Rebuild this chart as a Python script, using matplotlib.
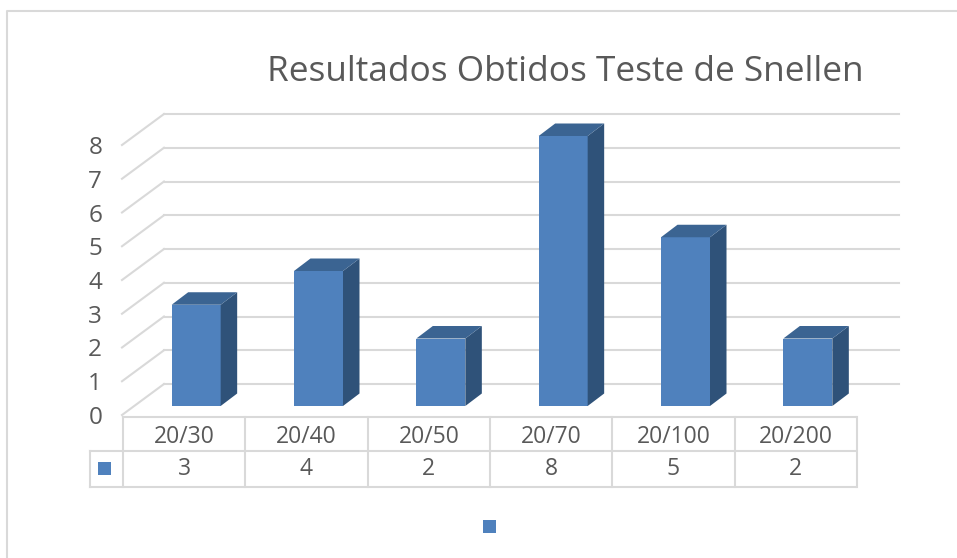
import matplotlib
matplotlib.use("Agg")
import matplotlib.pyplot as plt

categories = ["20/30", "20/40", "20/50", "20/70", "20/100", "20/200"]
values = [3, 4, 2, 8, 5, 2]
y_ticks = [0, 1, 2, 3, 4, 5, 6, 7, 8]
title = "Resultados Obtidos Teste de Snellen"

W, H = 957, 558
FRONT = "#4F81BD"
SIDE = "#2F5279"
TOP = "#3B6492"
LINE = "#D9D9D9"
TEXT = "#595959"
LW = 1.5

plt.rcParams["font.family"] = ["Open Sans", "DejaVu Sans"]

fig = plt.figure(figsize=(W / 100, H / 100), dpi=100)

# plot area, y=0 at pixel row 415 and y=8 at pixel row 145
ax = fig.add_axes([123 / W, 1 - 415 / H, 734 / W, 270 / H])
ax.set_xlim(-0.5, 5.5)
ax.set_ylim(0, 8)
ax.patch.set_alpha(0)
for s in ax.spines.values():
    s.set_visible(False)

# pixels to data units, for the fake 3d depth
px = 6 / 734
py = 8 / 270

# back wall grid lines and the diagonals on the left wall
back_dx = 41 * px
back_dy = 31 * py
x0 = -0.5
for v in y_ticks:
    ax.plot([x0 + back_dx, x0 + 776 * px], [v + back_dy, v + back_dy],
            color=LINE, lw=LW, zorder=1, clip_on=False)
    ax.plot([x0 - 1 * px, x0 + back_dx], [v, v + back_dy],
            color=LINE, lw=LW, zorder=1, clip_on=False)

# bars
bar_w = 49 * px
shift_x = 12 * px
base = 9 * py
dep_x = 16.5 * px
dep_y = 12.5 * py
for i, v in enumerate(values):
    l = i - bar_w / 2 + shift_x
    r = l + bar_w
    b = base
    t = v + base
    ax.fill([l, r, r, l], [b, b, t, t], color=FRONT, lw=0, zorder=3, clip_on=False)
    ax.fill([r, r + dep_x, r + dep_x, r], [b, b + dep_y, t + dep_y, t],
            color=SIDE, lw=0, zorder=3, clip_on=False)
    ax.fill([l, r, r + dep_x, l + dep_x], [t, t, t + dep_y, t + dep_y],
            color=TOP, lw=0, zorder=3, clip_on=False)

ax.set_yticks(y_ticks)
ax.set_yticklabels([str(v) for v in y_ticks], fontsize=17.5, color=TEXT)
ax.tick_params(axis="y", length=0, pad=15)
ax.set_xticks(range(len(categories)))
ax.set_xticklabels(categories, fontsize=16.5, color=TEXT)
ax.tick_params(axis="x", length=0, pad=7.5)

# data table row under the categories
row_y = -(469 - 415) * py
for i, v in enumerate(values):
    ax.text(i, row_y, str(v), ha="center", va="center", fontsize=16.5,
            color=TEXT, clip_on=False)

# overlay in pixel coords for frame, table lines, legend keys and title
ov = fig.add_axes([0, 0, 1, 1], zorder=-1)
ov.set_xlim(0, W)
ov.set_ylim(H, 0)
ov.axis("off")

ov.plot([7, 7, W], [H, 11, 11], color=LINE, lw=LW)

col_edges = [123 + 122.33 * i for i in range(len(categories) + 1)]
ov.plot([123, 856], [416.5, 416.5], color=LINE, lw=LW)
ov.plot([90, 856], [450.5, 450.5], color=LINE, lw=LW)
ov.plot([90, 856], [486.5, 486.5], color=LINE, lw=LW)
ov.plot([90, 90], [450.5, 486.5], color=LINE, lw=LW)
for xe in col_edges:
    ov.plot([xe, xe], [416.5, 486.5], color=LINE, lw=LW)

ov.fill([98, 111, 111, 98], [462, 462, 475, 475], color=FRONT, lw=0)
ov.fill([483, 496, 496, 483], [520, 520, 533, 533], color=FRONT, lw=0)

ov.text(565.5, 72, title, ha="center", va="center", fontsize=25.4, color=TEXT)

fig.savefig("out.png", dpi=100)
